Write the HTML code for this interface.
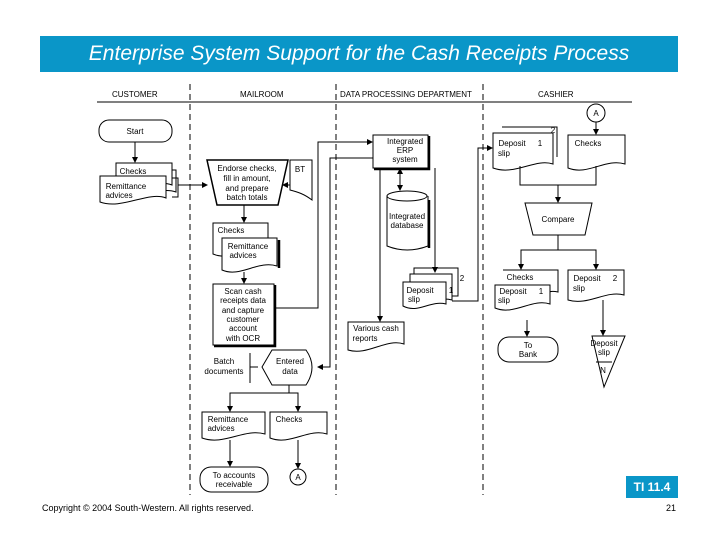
<!DOCTYPE html>
<html><head><meta charset="utf-8"><style>
html,body{margin:0;padding:0;background:#fff;}
body{width:720px;height:540px;position:relative;overflow:hidden;font-family:"Liberation Sans",sans-serif;}
.title{position:absolute;left:40px;top:36px;width:638px;height:36px;background:#0a96c8;color:#fff;font-style:italic;font-size:21px;line-height:36px;text-align:center;}
.ti{position:absolute;left:626px;top:476px;width:52px;height:22px;background:#0a96c8;color:#fff;font-weight:bold;font-size:12px;line-height:22px;text-align:center;}
.copy{position:absolute;left:42px;top:503px;font-size:9px;color:#000;}
.pg{position:absolute;left:666px;top:503px;font-size:9px;color:#000;}
svg{position:absolute;left:0;top:0;}
svg text{font-family:"Liberation Sans",sans-serif;font-size:8px;fill:#000;}
</style></head><body>
<div class="title">Enterprise System Support for the Cash Receipts Process</div>
<svg width="720" height="540" viewBox="0 0 720 540">
<defs><marker id="a" markerWidth="6" markerHeight="6" refX="5" refY="3" orient="auto" markerUnits="userSpaceOnUse"><path d="M0,0L6,3L0,6Z" fill="#000"/></marker></defs>
<g stroke="#000" fill="none" stroke-width="1">
<line x1="97" y1="102" x2="632" y2="102"/>
<g stroke-dasharray="6,4"><line x1="190" y1="84" x2="190" y2="495"/><line x1="336" y1="84" x2="336" y2="495"/><line x1="483" y1="84" x2="483" y2="495"/></g>
</g>
<g font-size="8">
<text x="112" y="97">CUSTOMER</text><text x="240" y="97">MAILROOM</text><text x="340" y="97">DATA PROCESSING DEPARTMENT</text><text x="538" y="97">CASHIER</text>
</g>
<g stroke="#000" fill="#fff" stroke-width="1">
<!-- customer -->
<rect x="99" y="120" width="73" height="22" rx="10"/>
<path d="M122 170H176V192C160 186 140 200 122 194Z"/>
<path d="M116 163H172V185C155 178 136 194 116 188Z"/>
<path d="M100 176H166V198C148 191 122 210 100 202Z"/>
<!-- mailroom -->
<path d="M207 160H288L278 205H217Z" stroke-width="1.5"/>
<path d="M290 160H312V200C304 194 298 192 290 190Z"/>
<path d="M213 223H268V250C250 244 232 262 213 254Z"/>
<path d="M222 238H277V266C258 260 240 278 222 270Z"/>
<path d="M213 284H274V345H213Z"/>
<path d="M262 367L272 350H306Q318 367 306 385H272Z"/>
<path d="M202 412H265V434C244 428 224 446 202 438Z"/>
<path d="M270 412H327V434C308 428 290 446 270 438Z"/>
<rect x="200" y="467" width="68" height="25" rx="11"/>
<circle cx="298" cy="477" r="8"/>
<!-- data processing -->
<rect x="373" y="135" width="55" height="33"/>
<path d="M387 196V246Q407 254 428 246V196"/>
<ellipse cx="407" cy="196" rx="20" ry="5"/>
<path d="M414 276V268H458V296H452"/>
<path d="M410 282V274H452V300C438 296 428 306 410 300"/>
<path d="M403 282H446V304C430 300 418 314 403 306Z"/>
<path d="M348 322H404V344C386 338 368 356 348 350Z"/>
<!-- cashier -->
<path d="M502 127H557V157"/>
<path d="M493 133H553V164C535 158 515 176 493 168Z"/>
<path d="M568 135H625V164C605 158 588 176 568 168Z"/>
<circle cx="596" cy="113" r="9"/>
<path d="M525 203H592L585 235H533Z"/>
<path d="M503 270H558V292C548 290 548 294 550 292"/>
<path d="M495 285H550V304C532 298 514 316 495 308Z"/>
<path d="M568 270H624V295C606 290 588 306 568 300Z"/>
<rect x="498" y="337" width="60" height="25" rx="11"/>
<path d="M592 336H625L604 387Z"/>
</g>
<g stroke="#000" stroke-width="2.5" fill="none">
<path d="M275 285V346H214"/><path d="M429 136V169H374"/><path d="M429 200V248"/><path d="M279 240V268"/>
</g>
<g stroke="#000" fill="none" stroke-width="1">
<line x1="596" y1="362" x2="612" y2="362"/>
<line x1="135" y1="142" x2="135" y2="162" marker-end="url(#a)"/>
<path d="M172 178H178V197H172"/>
<line x1="178" y1="185" x2="207" y2="185" marker-end="url(#a)"/>
<line x1="290" y1="185" x2="283" y2="185" marker-end="url(#a)"/>
<line x1="244" y1="205" x2="244" y2="222" marker-end="url(#a)"/>
<line x1="244" y1="272" x2="244" y2="283" marker-end="url(#a)"/>
<path d="M275 308H318V142H372" marker-end="url(#a)"/>
<path d="M373 158H330V367H318" marker-end="url(#a)"/>
<path d="M250 353V383M250 367H258"/>
<path d="M289 385V393H230V411M289 393H298V411" marker-end="url(#a)"/>
<line x1="230" y1="393" x2="230" y2="411" marker-end="url(#a)"/>
<line x1="230" y1="440" x2="230" y2="466" marker-end="url(#a)"/>
<line x1="298" y1="440" x2="298" y2="468" marker-end="url(#a)"/>
<line x1="400" y1="170" x2="400" y2="190" marker-end="url(#a)"/>
<line x1="400" y1="190" x2="400" y2="169" marker-end="url(#a)"/>
<line x1="380" y1="168" x2="380" y2="321" marker-end="url(#a)"/>
<line x1="435" y1="168" x2="435" y2="272" marker-end="url(#a)"/>
<path d="M452 301H478V148H492" marker-end="url(#a)"/>
<line x1="596" y1="122" x2="596" y2="134" marker-end="url(#a)"/>
<path d="M520 166V185H596V166M558 185V202" marker-end="url(#a)"/>
<path d="M558 235V250H521V269" marker-end="url(#a)"/>
<path d="M558 250H596V269" marker-end="url(#a)"/>
<line x1="527" y1="320" x2="527" y2="336" marker-end="url(#a)"/>
<line x1="603" y1="300" x2="603" y2="335" marker-end="url(#a)"/>
</g>
<g text-anchor="middle">
<text x="135" y="134">Start</text>
<text x="133" y="174">Checks</text>
<text x="126" y="189">Remittance</text><text x="119" y="198">advices</text>
<text x="247" y="171">Endorse checks,</text><text x="247" y="181">fill in amount,</text><text x="247" y="191">and prepare</text><text x="247" y="200">batch totals</text>
<text x="300" y="172">BT</text>
<text x="231" y="233">Checks</text>
<text x="248" y="249">Remittance</text><text x="243" y="258">advices</text>
<text x="243" y="294">Scan cash</text><text x="243" y="303">receipts data</text><text x="243" y="313">and capture</text><text x="243" y="322">customer</text><text x="243" y="331">account</text><text x="243" y="341">with OCR</text>
<text x="224" y="364">Batch</text><text x="224" y="374">documents</text>
<text x="290" y="364">Entered</text><text x="290" y="374">data</text>
<text x="228" y="422">Remittance</text><text x="221" y="431">advices</text>
<text x="289" y="422">Checks</text>
<text x="234" y="478">To accounts</text><text x="234" y="487">receivable</text>
<text x="298" y="480">A</text>
<text x="405" y="144">Integrated</text><text x="405" y="153">ERP</text><text x="405" y="162">system</text>
<text x="407" y="219">Integrated</text><text x="407" y="228">database</text>
<text x="420" y="293">Deposit</text><text x="414" y="302">slip</text><text x="451" y="293">1</text><text x="462" y="281">2</text>
<text x="376" y="331">Various cash</text><text x="365" y="341">reports</text>
<text x="512" y="146">Deposit</text><text x="504" y="156">slip</text><text x="553" y="133">2</text><text x="540" y="146">1</text>
<text x="588" y="146">Checks</text>
<text x="596" y="116">A</text>
<text x="558" y="222">Compare</text>
<text x="520" y="280">Checks</text>
<text x="513" y="294">Deposit</text><text x="504" y="303">slip</text><text x="541" y="294">1</text>
<text x="587" y="281">Deposit</text><text x="579" y="291">slip</text><text x="615" y="281">2</text>
<text x="528" y="348">To</text><text x="528" y="357">Bank</text>
<text x="604" y="346">Deposit</text><text x="604" y="355">slip</text>
<text x="603" y="373">N</text>
</g>
</svg>
<div class="ti">TI 11.4</div>
<div class="copy">Copyright © 2004 South-Western. All rights reserved.</div>
<div class="pg">21</div>
</body></html>
